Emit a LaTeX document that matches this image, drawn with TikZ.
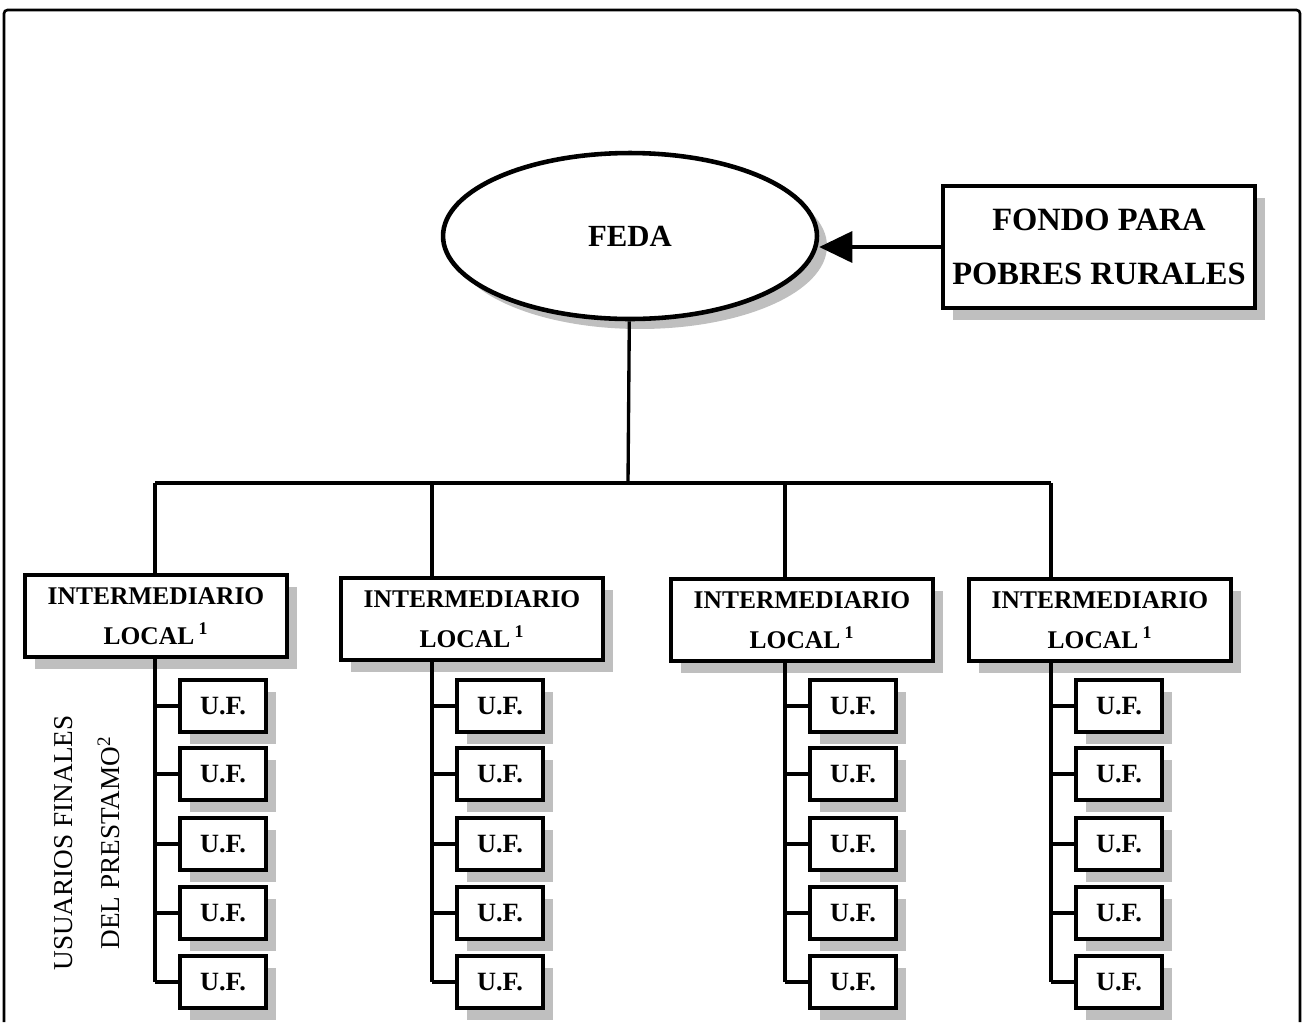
\documentclass[tikz,border=0pt]{standalone}
\usepackage{fontspec}
\setmainfont{Liberation Serif}
\usepackage{tikz}
\usetikzlibrary{shapes.geometric,shadows,arrows.meta}

\tikzset{
  shade box/.style={drop shadow={shadow xshift=0.2cm, shadow yshift=-0.24cm, fill=gray!50, opacity=1}},
  intbox/.style={draw, line width=1.9pt, fill=white, shade box, align=center, inner sep=0pt,
    minimum width=5.24cm, minimum height=1.64cm, font=\fontsize{14.5}{22.5}\selectfont\bfseries},
  ufbox/.style={draw, line width=1.9pt, fill=white, shade box, inner sep=0pt,
    minimum width=1.72cm, minimum height=1.04cm, font=\fontsize{15}{18}\selectfont\bfseries},
  link/.style={line width=1.9pt}
}

\begin{document}
\begin{tikzpicture}[x=0.02cm, y=-0.02cm]
	\useasboundingbox (0, 0) rectangle (1307, 1022);
	
	% outer frame
	\draw[line width=1.5pt, rounded corners=2pt] (4, 1022) -- (4, 10) -- (1300, 10) -- (1300, 1022);
	
	\node[ellipse, draw, line width=2.6pt, fill=white, inner sep=0pt, minimum width=7.48cm, minimum height=3.32cm,
		drop shadow={shadow xshift=0.2cm, shadow yshift=-0.2cm, fill=gray!50, opacity=1},
		font=\fontsize{17.5}{20}\selectfont\bfseries] (feda) at (630, 236) {FEDA};
	\node[draw, line width=1.9pt, fill=white, shade box, align=center, inner sep=0pt,
		minimum width=6.24cm, minimum height=2.44cm,
		font=\fontsize{18.5}{31}\selectfont\bfseries] (fondo) at (1099, 247) {FONDO PARA\\POBRES RURALES};
	\draw[link, -{Triangle[length=0.66cm, width=0.62cm]}] (fondo.west) -- (fondo.west -| feda.east);
	
	\node[intbox] (il1) at (156, 616) {INTERMEDIARIO\\LOCAL\,\textsuperscript{1}};
	\node[intbox] (il2) at (472, 619) {INTERMEDIARIO\\LOCAL\,\textsuperscript{1}};
	\node[intbox] (il3) at (802, 620) {INTERMEDIARIO\\LOCAL\,\textsuperscript{1}};
	\node[intbox] (il4) at (1100, 620) {INTERMEDIARIO\\LOCAL\,\textsuperscript{1}};
	
	\coordinate (bus) at (628, 483);
	\coordinate (top1) at (155, 483);
	\coordinate (top2) at (432, 483);
	\coordinate (top3) at (785, 483);
	\coordinate (top4) at (1051, 483);
	\draw[link] (feda) -- (bus);
	\draw[link] (top1) -- (top4);
	
	\foreach \g/\sx in {1/155, 2/432, 3/785, 4/1051} {
		\draw[link] (top\g) -- (top\g |- il\g.north);
		\foreach \k/\yy in {1/706, 2/774, 3/844, 4/913, 5/982}
			\node[ufbox] (uf\g\k) at (\sx + 68, \yy) {U.F.};
		\draw[link] (top\g |- il\g.south) -- (top\g |- uf\g5.west);
		\foreach \k in {1, ..., 5} \draw[link] (top\g |- uf\g\k.west) -- (uf\g\k.west);
	}
	
	\node[rotate=90, align=center, font=\fontsize{15.5}{26.6}\selectfont] (usuarios) at (87, 843)
		{USUARIOS FINALES\\DEL PRESTAMO\textsuperscript{2}};
\end{tikzpicture}
\end{document}
